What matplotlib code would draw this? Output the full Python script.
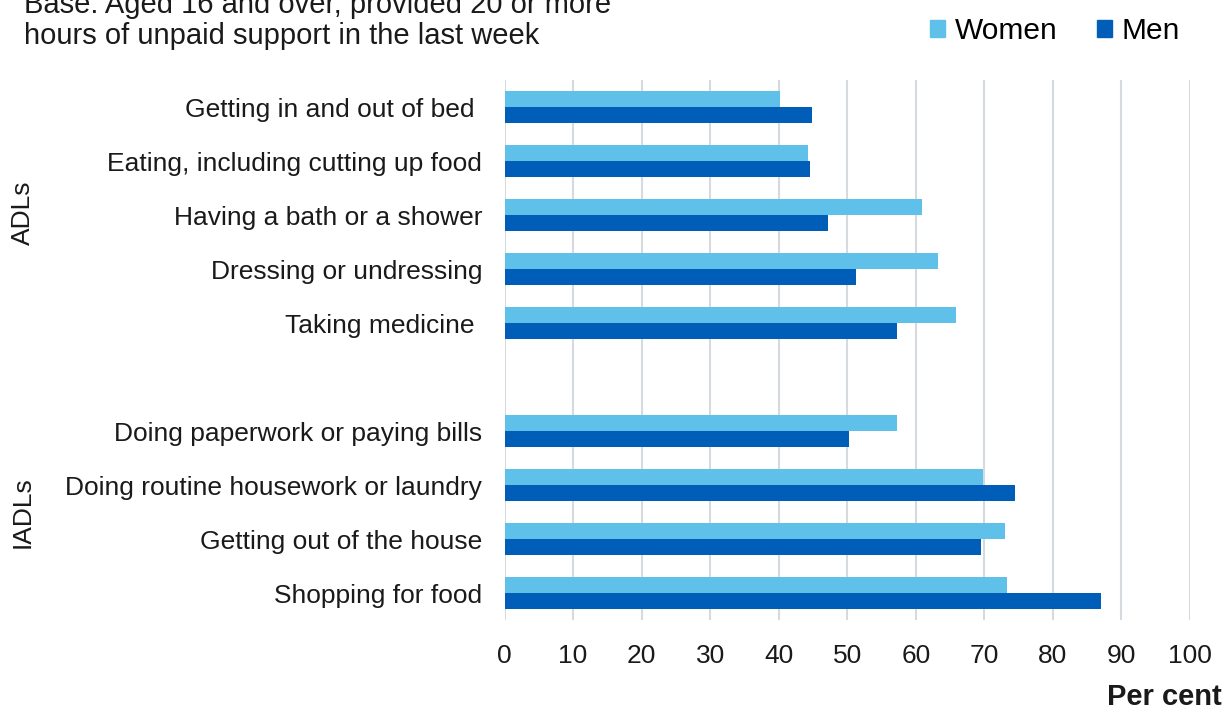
import matplotlib
matplotlib.use("Agg")
import matplotlib.pyplot as plt
from matplotlib.patches import Patch
import numpy as np

plt.rcParams['font.family'] = ['Liberation Sans', 'DejaVu Sans']

adl_labels = ["Getting in and out of bed ", "Eating, including cutting up food",
              "Having a bath or a shower", "Dressing or undressing", "Taking medicine "]
iadl_labels = ["Doing paperwork or paying bills", "Doing routine housework or laundry",
               "Getting out of the house", "Shopping for food"]

women_adl = [40.2, 44.3, 60.9, 63.3, 65.9]
men_adl = [44.9, 44.6, 47.2, 51.3, 57.2]
women_iadl = [57.3, 69.8, 73.0, 73.3]
men_iadl = [50.3, 74.5, 69.5, 87.0]

x_ticks = list(range(0, 101, 10))

women_col = "#5FC1EA"
men_col = "#005EB8"
grid_col = "#D5DADF"
text_col = "#1a1a1a"

# one empty slot between the two groups
labels = adl_labels + [""] + iadl_labels
women = women_adl + [np.nan] + women_iadl
men = men_adl + [np.nan] + men_iadl
pos = np.arange(len(labels))

W, H = 1226, 707
fig = plt.figure(figsize=(W / 100, H / 100), dpi=100)
ax = fig.add_axes([504.5 / W, 1 - 620 / H, (1190 - 504.5) / W, 540 / H])

h = 0.3
ax.barh(pos - h / 2, women, height=h, color=women_col, zorder=3)
ax.barh(pos + h / 2, men, height=h, color=men_col, zorder=3)

ax.set_xlim(0, 100)
ax.set_ylim(len(labels) - 0.5, -0.5)
ax.set_xticks(x_ticks)
ax.set_xticklabels([str(t) for t in x_ticks], fontsize=19, color=text_col)
ax.set_yticks(pos)
ax.set_yticklabels(labels, fontsize=19, color=text_col)
ax.tick_params(axis="both", length=0)
ax.tick_params(axis="y", pad=16)
ax.tick_params(axis="x", pad=17)
ax.grid(axis="x", color=grid_col, linewidth=1.5, zorder=0)
for s in ax.spines.values():
    s.set_visible(False)

# group labels down the left side
fig.text(23 / W, 1 - 213 / H, "ADLs", rotation=90, fontsize=19,
         ha="center", va="center", color=text_col)
fig.text(23 / W, 1 - 512 / H, "IADLs", rotation=90, fontsize=19,
         ha="center", va="center", color=text_col)

fig.text(24 / W, 1 - 13 / H, "Base: Aged 16 and over, provided 20 or more",
         fontsize=21, ha="left", va="baseline", color=text_col)
fig.text(24 / W, 1 - 44 / H, "hours of unpaid support in the last week",
         fontsize=21, ha="left", va="baseline", color=text_col)

fig.text(1222 / W, 1 - 705 / H, "Per cent", fontsize=21, fontweight="bold",
         ha="right", va="baseline", color=text_col)

handles = [Patch(color=women_col, label="Women"), Patch(color=men_col, label="Men")]
fig.legend(handles=handles, loc="center right", bbox_to_anchor=(1180 / W, 1 - 31 / H),
           ncol=2, frameon=False, fontsize=21.5, handlelength=0.5, handleheight=0.53,
           handletextpad=0.33, columnspacing=1.3, borderpad=0, borderaxespad=0)

fig.savefig("out.png", dpi=100, facecolor="white")
